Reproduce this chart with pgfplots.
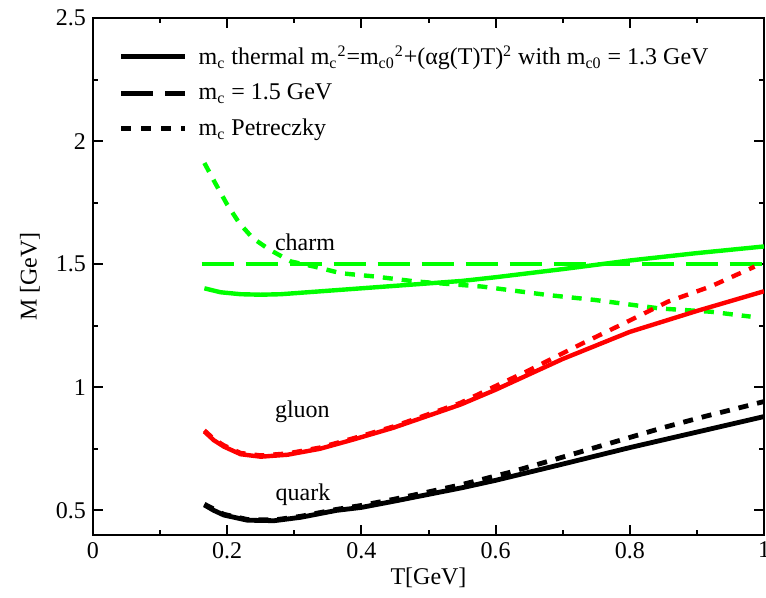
\documentclass[border=0pt]{standalone}
\usepackage{pgfplots}
\pgfplotsset{compat=1.18}
\usepackage{fontspec}
\setmainfont{Liberation Serif}
\definecolor{xgreen}{RGB}{0,255,0}
\definecolor{xred}{RGB}{255,0,0}
\begin{document}
\begin{tikzpicture}
\begin{axis}[
 name=ax,
 scale only axis, width=335.5pt, height=258.5pt,
 xmin=0, xmax=1, ymin=0.4, ymax=2.5,
 xtick={0,0.2,0.4,0.6,0.8,1}, xticklabels={0,0.2,0.4,0.6,0.8,1},
 ytick={0.5,1,1.5,2,2.5}, yticklabels={0.5,1,1.5,2,2.5},
 minor x tick num=1, minor y tick num=1,
 tick align=inside, tick pos=both,
 major tick length=5pt, minor tick length=2.5pt,
 every tick/.style={black, line width=1pt},
 axis line style={line width=1pt},
 ticklabel style={font=\fontsize{12}{14}\selectfont},
 xlabel={T[GeV]}, ylabel={M [GeV]},
 label style={font=\fontsize{12}{14}\selectfont},
 xlabel style={at={(0.5,-0.083)}, anchor=center},
 ylabel style={at={(-0.094,0.5)}, anchor=center},
 legend cell align=left,
 legend style={draw=none, fill=none, at={(0.038,0.955)}, anchor=north west,
   font=\fontsize{12}{14}\selectfont, row sep=4pt, inner sep=0pt},
 legend image code/.code={\draw[#1] (0pt,0pt) -- (32pt,0pt); \path (35.5pt,0pt);},
]
\addlegendimage{black, line width=2.4pt}
\addlegendentry{m\textsubscript{c} thermal m\textsubscript{c}\textsuperscript{2}=m\textsubscript{c0}\textsuperscript{2}+(αg(T)T)\textsuperscript{2} with m\textsubscript{c0} = 1.3 GeV}
\addlegendimage{black, line width=2.4pt, dash pattern=on 16pt off 6pt}
\addlegendentry{m\textsubscript{c} = 1.5 GeV}
\addlegendimage{black, line width=2.4pt, dash pattern=on 5pt off 5pt}
\addlegendentry{m\textsubscript{c} Petreczky}

% charm thermal
\addplot[forget plot, xgreen, line width=2.2pt] coordinates {
(0.166,1.402) (0.19,1.386) (0.22,1.378) (0.25,1.376) (0.28,1.378) (0.33,1.388)
(0.40,1.402) (0.48,1.418) (0.55,1.432) (0.60,1.447) (0.70,1.48) (0.80,1.515)
(0.90,1.545) (1.00,1.572)};
% charm 1.5
\addplot[forget plot, xgreen, line width=2.2pt, dash pattern=on 16pt off 6pt] coordinates {
(0.162,1.5) (1.0,1.5)};
% charm Petreczky
\addplot[forget plot, xgreen, line width=2.2pt, dash pattern=on 5pt off 4.5pt] coordinates {
(0.166,1.911) (0.182,1.83) (0.20,1.742) (0.218,1.667) (0.238,1.606) (0.263,1.559)
(0.295,1.511) (0.33,1.49) (0.37,1.463) (0.42,1.45) (0.48,1.43) (0.58,1.409)
(0.677,1.375) (0.747,1.355) (0.845,1.32) (0.92,1.307) (0.98,1.287)};
% gluon thermal
\addplot[forget plot, xred, line width=2.2pt] coordinates {
(0.166,0.82) (0.18,0.785) (0.195,0.759) (0.22,0.728) (0.25,0.718) (0.29,0.726)
(0.338,0.75) (0.387,0.787) (0.447,0.835) (0.512,0.896) (0.548,0.93) (0.60,0.99)
(0.70,1.115) (0.80,1.225) (0.90,1.31) (1.00,1.39)};
% gluon Petreczky
\addplot[forget plot, xred, line width=2.2pt, dash pattern=on 5pt off 4.5pt] coordinates {
(0.166,0.825) (0.18,0.79) (0.195,0.764) (0.22,0.733) (0.25,0.723) (0.29,0.731)
(0.338,0.755) (0.387,0.792) (0.447,0.84) (0.512,0.902) (0.548,0.937) (0.60,1.005)
(0.646,1.064) (0.70,1.138) (0.73,1.179) (0.787,1.254) (0.857,1.348) (0.921,1.41)
(0.986,1.49)};
% quark thermal
\addplot[forget plot, black, line width=2.4pt] coordinates {
(0.166,0.522) (0.18,0.50) (0.195,0.481) (0.23,0.46) (0.27,0.458) (0.31,0.472)
(0.363,0.50) (0.40,0.512) (0.45,0.538) (0.50,0.565) (0.55,0.592) (0.60,0.622)
(0.70,0.688) (0.80,0.755) (0.90,0.818) (1.00,0.881)};
% quark Petreczky
\addplot[forget plot, black, line width=2.4pt, dash pattern=on 5pt off 4.5pt] coordinates {
(0.166,0.525) (0.195,0.484) (0.23,0.463) (0.27,0.461) (0.31,0.476) (0.363,0.504)
(0.40,0.52) (0.45,0.546) (0.50,0.575) (0.55,0.605) (0.622,0.655) (0.677,0.698)
(0.737,0.746) (0.796,0.793) (0.851,0.837) (0.911,0.881) (0.971,0.922) (1.0,0.942)};

\node[font=\fontsize{12}{14}\selectfont] at (axis cs:0.316,1.587) {charm};
\node[font=\fontsize{12}{14}\selectfont] at (axis cs:0.312,0.90) {gluon};
\node[font=\fontsize{12}{14}\selectfont] at (axis cs:0.313,0.563) {quark};
\end{axis}
\pgfresetboundingbox
\path ([xshift=-46.5pt,yshift=-31.5pt]ax.south west) rectangle ([xshift=1pt,yshift=9pt]ax.north east);
\end{tikzpicture}
\end{document}
